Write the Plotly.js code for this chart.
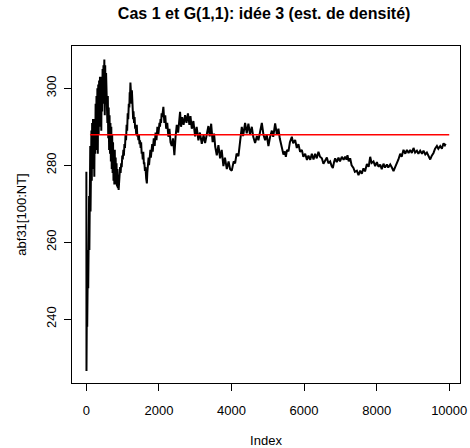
<!DOCTYPE html>
<html>
<head>
<meta charset="utf-8">
<script src="https://cdn.plot.ly/plotly-3.0.1.min.js"></script>
<style>html,body{margin:0;padding:0;background:#fff;}#chart{width:470px;height:448px;}</style>
</head>
<body>
<div id="chart"></div>
<script>
// Index positions and values (abf31[100:NT])
const idx = [1,4,8,12,18,24,30,38,45,52,60,68,76,84,92,100,108,116,124,132,140,150,160,172,184,196,208,220,232,244,256,268,280,292,304,316,328,340,352,364,376,388,400,412,424,436,448,460,472,484,496,508,520,532,544,556,568,580,592,604,616,628,640,652,664,676,688,700,712,724,736,748,760,772,784,796,808,820,832,844,856,868,880,890,
900,915,930,945,960,975,990,1005,1020,1035,1050,1065,1080,1095,1110,1125,1140,1155,1170,1185,1195,1205,1215,1225,1235,1245,1255,1268,1280,1290,1300,1315,1330,1345,1360,1375,1390,1405,1420,1435,1450,1465,1480,1495,1510,1525,1540,1555,1570,1585,1600,1615,1630,1650,1668,1680,1690,1703,1715,1728,1740,1752,1765,1778,1790,1803,1815,1830,1845,1858,1870,1883,1895,1908,1920,1933,1945,1958,1970,1985,2000,2015,2030,2045,2060,2075,2090,2105,2123,
2150,2175,2200,2230,2261,2290,2320,2354,2390,2426,2460,2492,2530,2560,2583,2610,2640,2680,2721,2760,2800,2840,2870,2906,2950,2997,3040,3088,3130,3182,3230,3273,3320,3364,3400,3440,3480,3520,3552,3595,3640,3686,3730,3777,3820,3871,3920,3962,4008,4060,4100,4140,4191,4230,4260,4284,4320,4375,4420,4466,4510,4560,4600,4651,4700,4742,4790,4836,4880,4927,4970,5018,5060,5112,5150,5203,5250,5294,5330,5360,5400,5432,5470,5498,5530,5570,5610,5663,5700,5754,5800,5845,5890,5939,5980,6030,6080,6121,6170,6214,6260,6305,6350,6396,6440,6490,6534,6580,6628,6670,6719,6760,6793,6830,6857,6900,6948,6990,7041,7090,7132,7170,7196,7230,7270,7310,7361,7400,7455,7500,7546,7590,7637,7680,7731,7780,7822,7860,7913,7960,8007,8050,8098,8140,8189,8230,8283,8320,8374,8420,8465,8510,8557,8600,8649,8690,8740,8790,8834,8880,8925,8970,9016,9060,9109,9150,9200,9250,9291,9340,9385,9430,9476,9520,9567,9610,9661,9700,9752,9798,9843,9880,9901];
const abf31 = [278.3,226.5,241,231,249,238,247,241,258,248,266,254,272,258,280,262,285,268,288,272,289,276,291,279,292,282,290,277,292,283,296,286,298,284,300,283,301,288,302,290,303,292,302,289,303,294,305,296,306,299,307.5,293,306,296,304,294,301,291,298,287,295,284,293,283,291,281,290,279,288,278,286,276,284,275,284,276,282,275,280.5,274.5,279,274,277,273.6,
276,278.5,279.5,278,280.5,279.5,282.5,281.5,284,282.5,285.5,284.5,288,286.5,290.5,289,293.5,292,296,295,299,298,301.5,296.5,298,296,299.5,295,294.5,292,294,291,292.5,289.5,290,288,290.5,287.5,288,286.5,288,285.5,286.5,284.5,286,283,283.5,281.5,283.5,280.5,280.5,278.5,279.5,276.5,275.3,278,279.5,280.5,282,280,281,283.5,284,282,283,285.5,285.5,283.5,285,287,286.5,285,286,288.5,288,286.5,287.5,290,289.5,288,289.5,291,290,292,291,293.5,292.5,294.5,295.2,
291,293,289.5,291,287.4,289.5,286,285,287,282.6,287.5,290.5,288.5,292,293.9,290,292.5,290.5,293,291,293.5,290.5,292.8,289.5,291.5,287.5,290,286.5,288.5,285.6,287.8,285.8,288.3,290.2,287.5,290.8,286,288.2,284.8,282.6,285.2,281.8,284,279.8,282,279,281,279,278.6,281,280.5,283,282.4,285,288,290,287.6,291,288.3,290.8,288,290,287.4,285.8,287.6,286.5,289,291,288,286.5,288,285,287.2,289,287.4,290.9,288,289.5,287,285.8,284,282.8,283.6,282.2,284,283.6,286,287.4,285.7,286.6,284.5,285.5,283.5,284,282.2,283,281.4,282.5,281.4,283,281.5,283,281.8,283.5,282.2,281.8,280.4,281.4,282,280.5,281,279.8,279.3,281,281.8,280.8,282,281,282.2,281.4,282.2,281.5,282.6,281,281.8,280,279.3,278.3,278.6,277.4,278.6,277.8,279.2,278.4,280.3,279.6,282.2,280.6,281,279.8,280.8,279.6,280.2,279,280.4,279.4,280.2,279.4,280.2,279.4,278.5,279.5,280.5,281.5,283,282.2,284,283,284,283.2,284,283.2,284.5,283.3,283.8,283,283.8,283,283.8,282.8,283.3,282.2,281.5,282.5,283.2,284.3,285,284.3,285,284.3,285.7,285.2,285.6];
// reference level (red line)
const refX = [100, 10000];
const refLevel = 287.9;
const xTicks = [0, 2000, 4000, 6000, 8000, 10000];
const yTicks = [240, 260, 280, 300];

const font = "Liberation Sans, Arial, Helvetica, sans-serif";
const data = [
  {x: idx, y: abf31, type: "scatter", mode: "lines", line: {color: "#000000", width: 2}, hoverinfo: "skip"},
  {x: refX, y: [refLevel, refLevel], type: "scatter", mode: "lines", line: {color: "#ff0000", width: 1.5}, hoverinfo: "skip"}
];
const layout = {
  width: 470, height: 448,
  margin: {l: 72, r: 10, t: 46, b: 65},
  paper_bgcolor: "#ffffff", plot_bgcolor: "#ffffff",
  showlegend: false,
  font: {family: font, color: "#000000", size: 13},
  title: {text: "<b>Cas 1 et G(1,1): idée 3 (est. de densité)</b>", font: {family: font, size: 16, color: "#000"}, x: 0.562, xanchor: "center", y: 0.969, yanchor: "middle"},
  xaxis: {
    range: [-395, 10297], tickvals: xTicks, ticktext: xTicks.map(String),
    showgrid: false, zeroline: false, showline: true, mirror: true, linecolor: "#000", linewidth: 1,
    ticks: "outside", ticklen: 7, tickcolor: "#000", tickwidth: 1, ticklabelstandoff: 8,
    tickfont: {size: 13, color: "#000"},
    title: {text: "Index", font: {size: 13, color: "#000"}, standoff: 25}
  },
  yaxis: {
    range: [223.4, 311.0], tickvals: yTicks, ticktext: yTicks.map(String), tickangle: -90,
    showgrid: false, zeroline: false, showline: true, mirror: true, linecolor: "#000", linewidth: 1,
    ticks: "outside", ticklen: 7, tickcolor: "#000", tickwidth: 1, ticklabelstandoff: 3,
    tickfont: {size: 13, color: "#000"},
    title: {text: "abf31[100:NT]", font: {size: 13, color: "#000"}, standoff: 14}
  }
};
Plotly.newPlot("chart", data, layout, {staticPlot: true, displayModeBar: false});
</script>
</body>
</html>
